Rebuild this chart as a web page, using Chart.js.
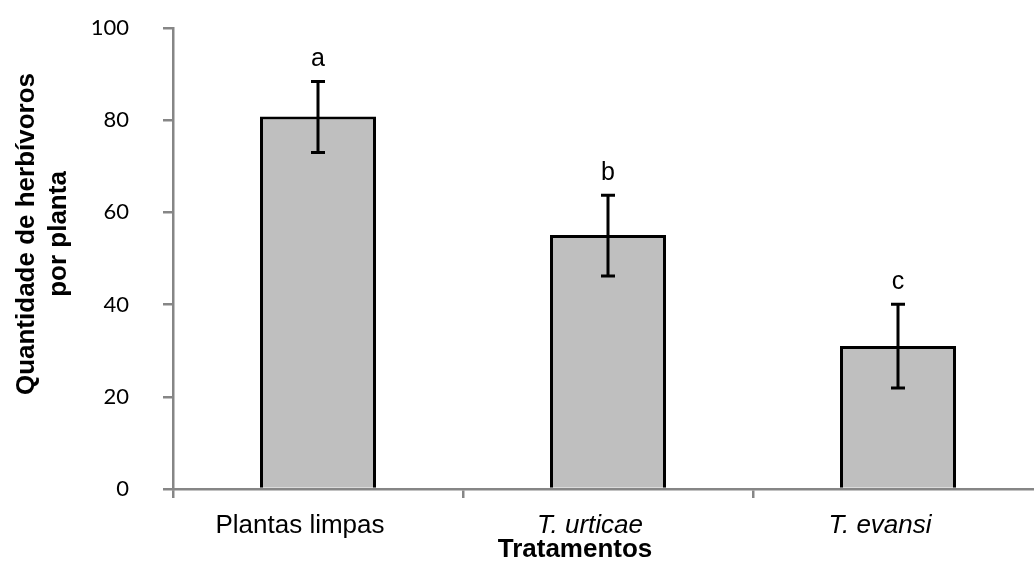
<!DOCTYPE html>
<html><head><meta charset="utf-8">
<script src="https://cdn.jsdelivr.net/npm/chart.js@4/dist/chart.umd.min.js"></script>
<style>html,body{margin:0;padding:0;background:#fff;overflow:hidden;width:1034px;height:567px}#w{width:1043px;height:567px}</style>
</head><body><div id="w"><canvas id="c"></canvas></div>
<script>
const categories = ["Plantas limpas", "T. urticae", "T. evansi"];
const italicCats = [false, true, true];
const means = [80.8, 55.1, 31.0];
const errHigh = [88.4, 63.7, 40.1];
const errLow = [73.0, 46.2, 21.9];
const letters = ["a", "b", "c"];
const yTicks = [0, 20, 40, 60, 80, 100];
const yTitleLines = ["Quantidade de herbívoros", "por planta"];
const xTitle = "Tratamentos";

const FONT = "'Liberation Sans', Arial, sans-serif";
const AXIS = '#868686';

const errPlugin = {
  id: 'err',
  afterDatasetsDraw(chart) {
    const ctx = chart.ctx, x = chart.scales.x, y = chart.scales.y;
    ctx.save();
    ctx.strokeStyle = '#000'; ctx.lineWidth = 3;
    for (let i = 0; i < means.length; i++) {
      const cx = x.getPixelForValue(i);
      const yh = y.getPixelForValue(errHigh[i]), yl = y.getPixelForValue(errLow[i]);
      ctx.beginPath();
      ctx.moveTo(cx, yh); ctx.lineTo(cx, yl);
      ctx.moveTo(cx - 7, yh); ctx.lineTo(cx + 7, yh);
      ctx.moveTo(cx - 7, yl); ctx.lineTo(cx + 7, yl);
      ctx.stroke();
      ctx.fillStyle = '#000';
      ctx.font = "25px " + FONT;
      ctx.textAlign = 'center'; ctx.textBaseline = 'alphabetic';
      ctx.fillText(letters[i], cx, yh - 15);
    }
    ctx.restore();
  },
  afterDraw(chart) {
    const ctx = chart.ctx;
    ctx.save();
    ctx.fillStyle = '#000';
    ctx.font = "bold 26px " + FONT;
    ctx.textAlign = 'center'; ctx.textBaseline = 'alphabetic';
    [34, 66].forEach((bx, i) => {
      ctx.save();
      ctx.translate(bx, 234);
      ctx.rotate(-Math.PI / 2);
      ctx.fillText(yTitleLines[i], 0, 0);
      ctx.restore();
    });
    ctx.fillText(xTitle, 575, 557);
    ctx.restore();
  }
};

new Chart(document.getElementById('c'), {
  type: 'bar',
  data: {
    labels: categories,
    datasets: [{
      data: means,
      backgroundColor: '#bfbfbf',
      borderColor: '#000',
      borderWidth: 3,
      borderSkipped: 'bottom',
      categoryPercentage: 1,
      barPercentage: 0.4
    }]
  },
  options: {
    responsive: true, maintainAspectRatio: false, animation: false,
    layout: { padding: { top: 28, right: 0, left: 0, bottom: 0 } },
    plugins: { legend: { display: false }, tooltip: { enabled: false } },
    scales: {
      x: {
        afterFit: (s) => { s.height = 78; s.paddingLeft = 0; s.paddingRight = 0; },
        grid: { display: true, drawOnChartArea: false, drawTicks: true, tickLength: 9, color: AXIS, lineWidth: 2.5, offset: true },
        border: { display: true, color: AXIS, width: 2.5 },
        ticks: {
          color: '#000', padding: 12, labelOffset: -18,
          font: (c) => ({ family: FONT, size: 26, style: italicCats[c.index] ? 'italic' : 'normal' })
        }
      },
      y: {
        min: 0, max: 100,
        afterFit: (s) => { s.width = 173; s.paddingTop = 0; s.paddingBottom = 0; },
        afterBuildTicks: (s) => { s.ticks = yTicks.map(v => ({ value: v })); },
        grid: { display: true, drawOnChartArea: false, drawTicks: true, tickLength: 10, color: AXIS, lineWidth: 2.5 },
        border: { display: true, color: AXIS, width: 2.5 },
        ticks: { color: '#000', padding: 34, font: { family: "Lato, 'Liberation Sans', sans-serif", size: 22 } }
      }
    }
  },
  plugins: [errPlugin]
});
</script></body></html>
